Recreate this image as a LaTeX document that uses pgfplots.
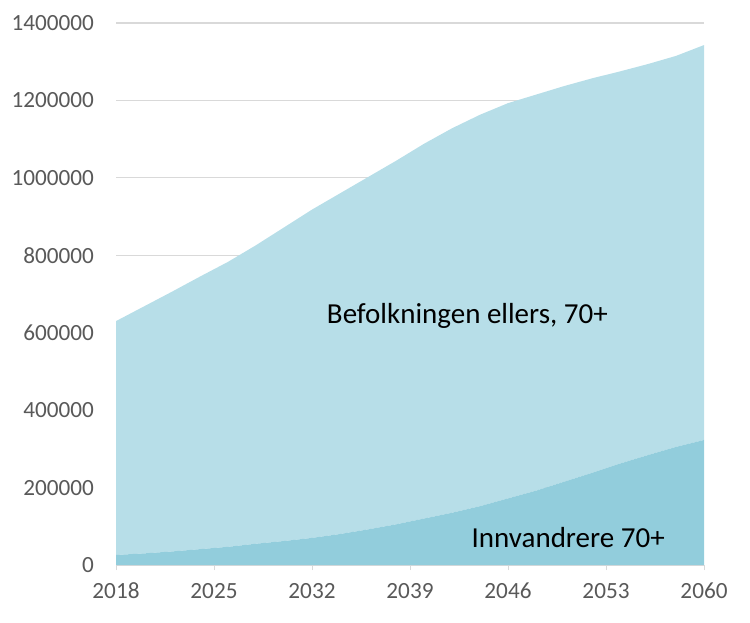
\documentclass[border=0pt]{standalone}
\usepackage{pgfplots}
\pgfplotsset{compat=1.18}
\usepackage{fontspec}
\setmainfont{Carlito}
\definecolor{topc}{HTML}{B7DEE8}
\definecolor{botc}{HTML}{92CDDC}
\definecolor{gridc}{HTML}{D9D9D9}
\definecolor{labc}{HTML}{595959}
\pgfplotstableread{
year imm rest
2018 26000 604000
2020 30000 638000
2022 35000 671000
2024 41000 704000
2026 47000 736000
2028 55000 771000
2030 62000 810000
2032 70000 848000
2034 80000 880000
2036 92000 910000
2038 105000 939000
2040 120000 968000
2042 135000 993000
2044 152000 1011000
2046 172000 1021000
2048 192000 1023000
2050 215000 1022000
2052 238000 1019000
2054 262000 1013000
2056 284000 1010000
2058 305000 1010000
2060 323000 1020000
}\datatable
\begin{document}
\begin{tikzpicture}
\begin{axis}[
  at={(58pt,28.5pt)}, anchor=south west,
  scale only axis, width=294pt, height=271pt,
  xmin=2018, xmax=2060, ymin=0, ymax=1400000,
  stack plots=y,
  xtick={2018,2025,...,2060},
  minor x tick num=6,
  ytick={0,200000,...,1400000},
  scaled y ticks=false,
  yticklabel={\pgfmathprintnumber[fixed,1000 sep={}]{\tick}},
  xticklabel={\pgfmathprintnumber[fixed,1000 sep={}]{\tick}},
  /pgf/number format/assume math mode=true,
  tick label style={font=\fontsize{11.6}{13}\selectfont, color=labc},
  ymajorgrids, grid style={gridc, line width=0.6pt},
  axis lines*=left,
  x axis line style={gridc, line width=0.6pt, -},
  y axis line style={draw=none},
  tick align=outside,
  major tick length=2.5pt, minor tick length=2.5pt,
  xtick style={gridc, line width=0.5pt},
  ytick style={draw=none},
  yticklabel style={xshift=-5pt},
  xticklabel style={yshift=-3pt},
  clip=false,
]
\addplot[fill=botc, draw=none] table[x=year, y=imm] {\datatable} \closedcycle;
\addplot[fill=topc, draw=none] table[x=year, y=rest] {\datatable} \closedcycle;
\end{axis}
\begin{axis}[
  at={(58pt,28.5pt)}, anchor=south west,
  scale only axis, width=294pt, height=271pt,
  xmin=2018, xmax=2060, ymin=0, ymax=1400000,
  hide axis,
]
\node[font=\fontsize{14.5}{17}\selectfont, text=black] at (axis cs:2043.1,643000) {Befolkningen ellers, 70+};
\node[font=\fontsize{14.5}{17}\selectfont, text=black] at (axis cs:2050.3,70000) {Innvandrere 70+};
\end{axis}
\pgfresetboundingbox
\path (0,0) rectangle (375pt,311pt);
\end{tikzpicture}
\end{document}
